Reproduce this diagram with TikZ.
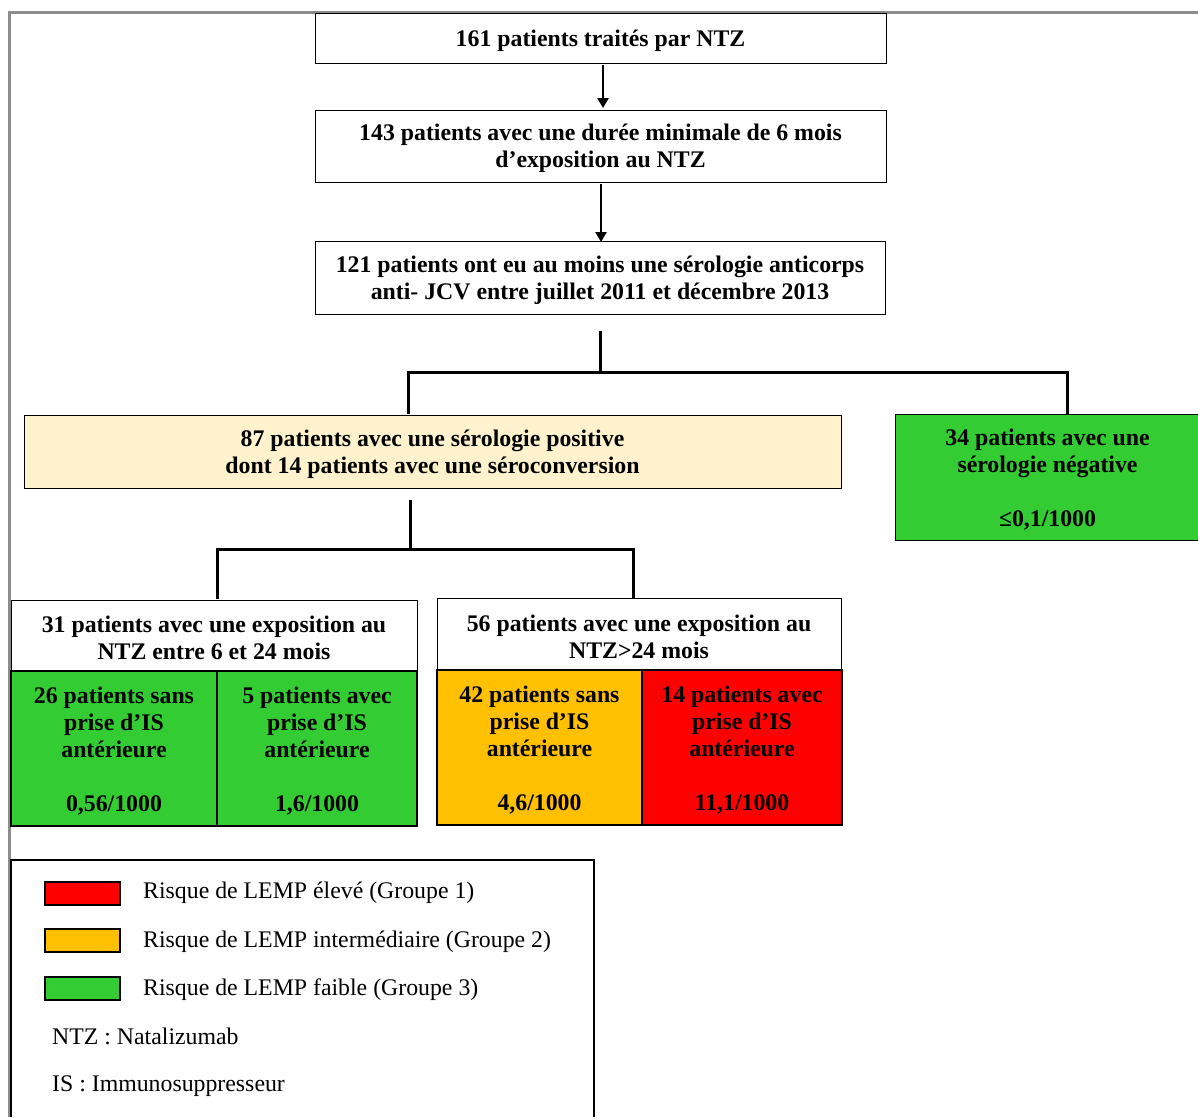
\documentclass[tikz,border=0pt]{standalone}
\usepackage{fontspec}
\setmainfont{Liberation Serif}
\usetikzlibrary{arrows.meta}
\definecolor{grn}{HTML}{33CC33}
\definecolor{org}{HTML}{FFC000}
\definecolor{rd}{HTML}{FF0000}
\definecolor{crm}{HTML}{FFF2CC}
\definecolor{frm}{HTML}{8C8C8C}
\tikzset{
  box/.style={draw=black, line width=1pt, rectangle, inner sep=0pt},
  cell/.style={box, line width=2pt},
  txt/.style={inner sep=0pt, align=center, yshift=-2.5pt,
    font=\fontsize{23.8}{27}\selectfont\bfseries},
  conn/.style={line width=3pt, black},
  arr/.style={line width=2.5pt, black, -{Triangle[length=10pt,width=11pt]}},
  legtxt/.style={anchor=west, inner sep=0pt, font=\fontsize{23.8}{27}\selectfont},
  swatch/.style={draw=black, line width=2pt, rectangle, minimum width=75pt, minimum height=23pt, inner sep=0pt},
}
\begin{document}
\begin{tikzpicture}[x=1pt,y=-1pt]
\useasboundingbox (0,0) rectangle (1198,1117);
% frame
\draw[frm, line width=3pt] (9,1117) -- (9,12) -- (1198,12);
% top boxes
\node[box, minimum width=571pt, minimum height=50pt] (b1) at (600.5,38) {};
\node[txt] (t1) at (b1.center) {161 patients traités par NTZ};
\node[box, minimum width=571pt, minimum height=72pt] (b2) at (600.5,146) {};
\node[txt] (t2) at (b2.center) {143 patients avec une durée minimale de 6 mois\\d’exposition au NTZ};
\node[box, minimum width=570pt, minimum height=73pt] (b3) at (600,277.5) {};
\node[txt] (t3) at (b3.center) {121 patients ont eu au moins une sérologie anticorps\\anti- JCV entre juillet 2011 et décembre 2013};
\draw[arr] (603,65) -- (603,108);
\draw[arr] (601,184) -- (601,242);
% first split
\node[box, fill=crm, minimum width=817pt, minimum height=73pt] (pos) at (432.5,451.5) {};
\node[txt] (tpos) at (pos.center) {87 patients avec une sérologie positive\\dont 14 patients avec une séroconversion};
\node[box, fill=grn, minimum width=305pt, minimum height=126pt] (neg) at (1047.5,477) {};
\node[txt] (tneg) at (neg.center) {34 patients avec une\\sérologie négative\\[27pt]≤0,1/1000};
\coordinate (s1) at (600,331);
\coordinate (j1) at (600,372);
\draw[conn] (s1) -- (j1);
\draw[conn] (408,414) -- (408,372) -- (1067,372) -- (1067,414);
% second split
\coordinate (s2) at (410,500);
\coordinate (j2) at (410,549);
\draw[conn] (s2) -- (j2);
\draw[conn] (217,599) -- (217,549) -- (633,549) -- (633,598);
% left group
\node[box, fill=white, minimum width=406pt, minimum height=71pt] (g1) at (214,635.5) {};
\node[txt] (tg1) at (g1.center) {31 patients avec une exposition au\\NTZ entre 6 et 24 mois};
\node[cell, fill=grn, minimum width=206pt, minimum height=155pt] (g1a) at (114,748.5) {};
\node[txt] (tg1a) at (g1a.center) {26 patients sans\\prise d’IS\\antérieure\\[27pt]0,56/1000};
\node[cell, fill=grn, minimum width=200pt, minimum height=155pt] (g1b) at (317,748.5) {};
\node[txt] (tg1b) at (g1b.center) {5 patients avec\\prise d’IS\\antérieure\\[27pt]1,6/1000};
% right group
\node[box, fill=white, minimum width=404pt, minimum height=72pt] (g2) at (639,634) {};
\node[txt] (tg2) at (g2.center) {56 patients avec une exposition au\\NTZ>24 mois};
\node[cell, fill=org, minimum width=205pt, minimum height=155pt] (g2a) at (539.5,747.5) {};
\node[txt] (tg2a) at (g2a.center) {42 patients sans\\prise d’IS\\antérieure\\[27pt]4,6/1000};
\node[cell, fill=rd, minimum width=200pt, minimum height=155pt] (g2b) at (742,747.5) {};
\node[txt] (tg2b) at (g2b.center) {14 patients avec\\prise d’IS\\antérieure\\[27pt]11,1/1000};
% legend
\draw[black, line width=2pt] (11,1117) -- (11,860) -- (594,860) -- (594,1117);
\node[swatch, fill=rd] (sw1) at (82.5,893) {};
\node[swatch, fill=org] (sw2) at (82.5,940) {};
\node[swatch, fill=grn] (sw3) at (82.5,988) {};
\node[legtxt] (l1) at (143,893) {Risque de LEMP élevé (Groupe 1)};
\node[legtxt] (l2) at (143,941.5) {Risque de LEMP intermédiaire (Groupe 2)};
\node[legtxt] (l3) at (143,990) {Risque de LEMP faible (Groupe 3)};
\node[legtxt] (l4) at (52,1036) {NTZ : Natalizumab};
\node[legtxt] (l5) at (52,1086) {IS : Immunosuppresseur};
\end{tikzpicture}
\end{document}
